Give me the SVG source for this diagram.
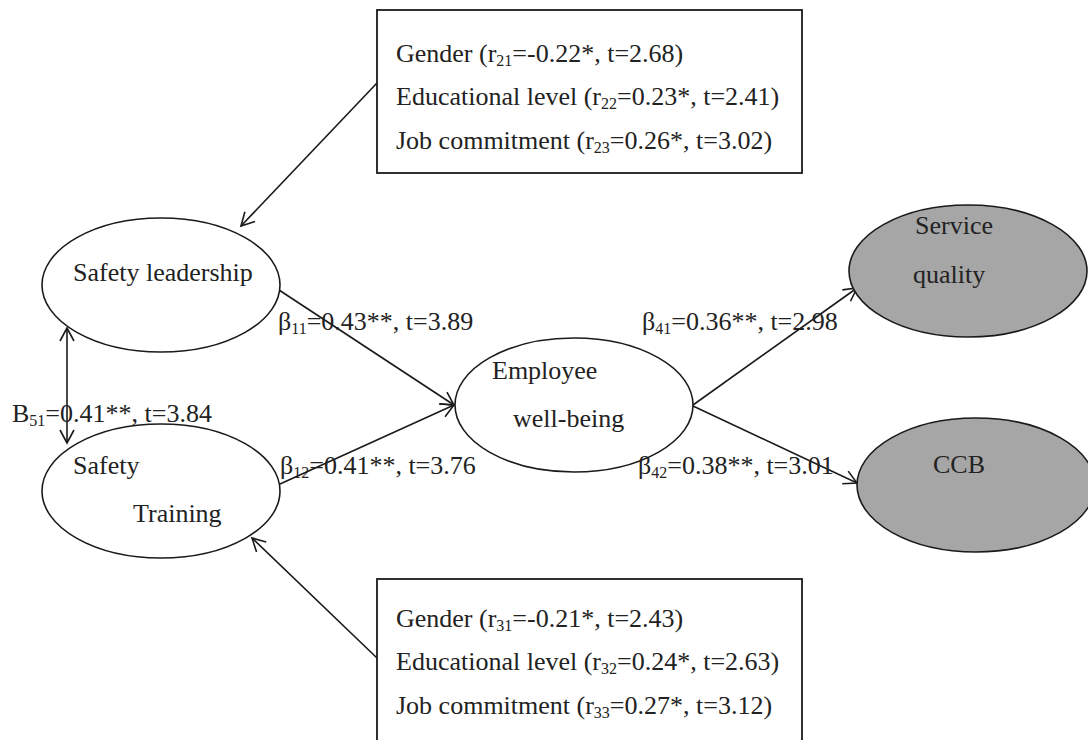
<svg xmlns="http://www.w3.org/2000/svg" width="1088" height="740" viewBox="0 0 1088 740">
<style>
text{font-family:"Liberation Serif","Times New Roman",serif;font-size:26px;fill:#222}
.sub{font-size:16px}
.ell{fill:#fff;stroke:#1a1a1a;stroke-width:1.6}
.grey{fill:#a6a6a6}
.box{fill:#fff;stroke:#1a1a1a;stroke-width:1.8}
.con{stroke:#1a1a1a;stroke-width:1.6;fill:none}
</style>
<defs>
<marker id="arr" markerUnits="userSpaceOnUse" markerWidth="20" markerHeight="20" viewBox="0 0 20 20" refX="15" refY="10" orient="auto-start-reverse">
<path d="M2,3 L15,10 L2,17" fill="none" stroke="#1a1a1a" stroke-width="1.6"/>
</marker>
</defs>
<rect width="1088" height="740" fill="#fff"/>
<g id="connectors">
<line class="con" x1="377" y1="83" x2="241" y2="226" marker-end="url(#arr)"/>
<line class="con" x1="377" y1="658" x2="252" y2="538" marker-end="url(#arr)"/>
<line class="con" x1="67" y1="328" x2="67" y2="443" marker-start="url(#arr)" marker-end="url(#arr)"/>
<line class="con" x1="279" y1="290" x2="454" y2="405" marker-end="url(#arr)"/>
<line class="con" x1="280" y1="484" x2="454" y2="405" marker-end="url(#arr)"/>
<line class="con" x1="693" y1="405" x2="857" y2="288" marker-end="url(#arr)"/>
<line class="con" x1="693" y1="406" x2="857" y2="483" marker-end="url(#arr)"/>
</g>
<g id="box-top">
<rect class="box" x="377" y="10" width="425" height="163"/>
<text x="396" y="62">Gender (r<tspan class="sub" dy="4">21</tspan><tspan dy="-4">=-0.22*, t=2.68)</tspan></text>
<text x="396" y="105">Educational level (r<tspan class="sub" dy="4">22</tspan><tspan dy="-4">=0.23*, t=2.41)</tspan></text>
<text x="396" y="149">Job commitment (r<tspan class="sub" dy="4">23</tspan><tspan dy="-4">=0.26*, t=3.02)</tspan></text>
</g>
<g id="box-bottom">
<rect class="box" x="377" y="579" width="425" height="175"/>
<text x="396" y="627">Gender (r<tspan class="sub" dy="4">31</tspan><tspan dy="-4">=-0.21*, t=2.43)</tspan></text>
<text x="396" y="670">Educational level (r<tspan class="sub" dy="4">32</tspan><tspan dy="-4">=0.24*, t=2.63)</tspan></text>
<text x="396" y="714">Job commitment (r<tspan class="sub" dy="4">33</tspan><tspan dy="-4">=0.27*, t=3.12)</tspan></text>
</g>
<g id="safety-leadership">
<ellipse class="ell" cx="161" cy="285" rx="119" ry="67"/>
<text x="73" y="281">Safety leadership</text>
</g>
<g id="safety-training">
<ellipse class="ell" cx="161" cy="491" rx="119" ry="67"/>
<text x="73" y="474">Safety</text>
<text x="133" y="522">Training</text>
</g>
<g id="employee-well-being">
<ellipse class="ell" cx="574" cy="405" rx="119" ry="67"/>
<text x="492" y="379">Employee</text>
<text x="513" y="427">well-being</text>
</g>
<g id="service-quality">
<ellipse class="ell grey" cx="968" cy="271" rx="119" ry="66"/>
<text x="915" y="234">Service</text>
<text x="913" y="283">quality</text>
</g>
<g id="ccb">
<ellipse class="ell grey" cx="976" cy="485" rx="119" ry="67"/>
<text x="933" y="473">CCB</text>
</g>
<g id="labels">
<text x="12" y="422">B<tspan class="sub" dy="4">51</tspan><tspan dy="-4">=0.41**, t=3.84</tspan></text>
<text x="278" y="330">β<tspan class="sub" dy="4">11</tspan><tspan dy="-4">=0.43**, t=3.89</tspan></text>
<text x="280" y="474">β<tspan class="sub" dy="4">12</tspan><tspan dy="-4">=0.41**, t=3.76</tspan></text>
<text x="642" y="330">β<tspan class="sub" dy="4">41</tspan><tspan dy="-4">=0.36**, t=2.98</tspan></text>
<text x="638" y="474">β<tspan class="sub" dy="4">42</tspan><tspan dy="-4">=0.38**, t=3.01</tspan></text>
</g>
</svg>
